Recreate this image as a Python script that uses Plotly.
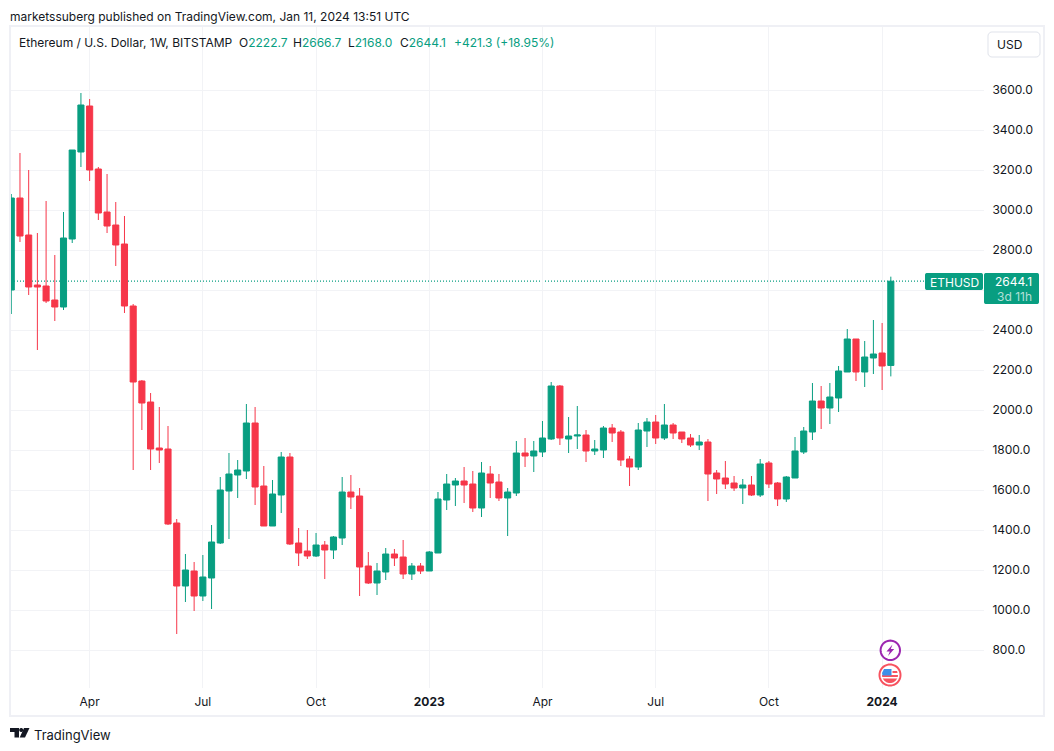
import math
import plotly.graph_objects as go

# ETH/USD weekly candles
opens = [2600, 3060, 2875, 2625, 2620, 2550, 2515, 2855, 3290, 3520,
         3205, 2990, 2925, 2830, 2520, 2145, 2040, 1810, 1805, 1435,
         1120, 1195, 1070, 1160, 1335, 1595, 1675, 1695, 1935, 1620,
         1420, 1575, 1765, 1335, 1295, 1270, 1325, 1300, 1360, 1590,
         1570, 1220, 1135, 1190, 1280, 1265, 1180, 1220, 1195, 1285,
         1550, 1625, 1645, 1630, 1510, 1680, 1640, 1560, 1585, 1785,
         1770, 1790, 1855, 2120, 1855, 1870, 1875, 1795, 1800, 1910,
         1890, 1755, 1715, 1895, 1940, 1860, 1925, 1890, 1860, 1825,
         1840, 1685, 1660, 1635, 1610, 1625, 1575, 1735, 1635, 1555,
         1660, 1790, 1890, 2045, 2010, 2060, 2190, 2355, 2190, 2260,
         2285, 2222.7]
highs = [3080, 3285, 3200, 2885, 3045, 2775, 2990, 3300, 3585, 3555,
         3215, 3180, 3040, 2970, 2530, 2150, 2085, 2015, 1920, 1455,
         1280, 1240, 1275, 1425, 1665, 1785, 1750, 2030, 2015, 1720,
         1650, 1790, 1785, 1410, 1400, 1385, 1345, 1370, 1665, 1675,
         1610, 1290, 1235, 1310, 1305, 1350, 1235, 1235, 1295, 1590,
         1680, 1660, 1715, 1695, 1740, 1720, 1680, 1610, 1845, 1860,
         1845, 1945, 2140, 2125, 1965, 2020, 1900, 1850, 1920, 1930,
         1900, 1770, 1935, 1960, 1975, 2030, 1935, 1890, 1880, 1875,
         1855, 1700, 1745, 1670, 1655, 1670, 1755, 1745, 1640, 1670,
         1865, 1915, 2135, 2120, 2135, 2220, 2405, 2355, 2345, 2450,
         2435, 2666.7]
lows = [2480, 2840, 2575, 2300, 2535, 2445, 2500, 2835, 3215, 3145,
        2950, 2885, 2720, 2485, 1700, 1900, 1700, 1735, 1425, 880,
        1040, 995, 1045, 1005, 1330, 1355, 1560, 1655, 1525, 1420,
        1420, 1485, 1325, 1220, 1255, 1265, 1155, 1255, 1325, 1505,
        1070, 1130, 1075, 1150, 1220, 1155, 1150, 1180, 1195, 1285,
        1500, 1520, 1535, 1490, 1465, 1560, 1545, 1370, 1570, 1715,
        1690, 1765, 1850, 1825, 1785, 1805, 1740, 1775, 1760, 1840,
        1720, 1620, 1700, 1815, 1830, 1850, 1855, 1835, 1815, 1800,
        1545, 1580, 1605, 1595, 1530, 1570, 1565, 1610, 1520, 1540,
        1660, 1780, 1850, 1905, 1930, 1990, 2190, 2145, 2115, 2180,
        2100, 2168.0]
closes = [3060, 2870, 2615, 2615, 2545, 2515, 2860, 3300, 3525, 3200,
          2985, 2920, 2825, 2520, 2140, 2035, 1805, 1800, 1430, 1120,
          1200, 1070, 1165, 1340, 1600, 1680, 1700, 1935, 1615, 1420,
          1580, 1765, 1330, 1285, 1270, 1325, 1300, 1365, 1590, 1565,
          1215, 1135, 1195, 1280, 1260, 1180, 1220, 1195, 1290, 1555,
          1630, 1645, 1625, 1510, 1685, 1635, 1560, 1590, 1785, 1770,
          1795, 1860, 2120, 1860, 1870, 1875, 1795, 1805, 1910, 1885,
          1750, 1715, 1900, 1940, 1860, 1925, 1885, 1855, 1825, 1840,
          1680, 1655, 1630, 1610, 1625, 1575, 1730, 1630, 1555, 1665,
          1795, 1895, 2045, 2010, 2065, 2195, 2355, 2190, 2265, 2280,
          2220, 2644.1]
bars = list(range(len(closes)))

time_ticks = [9, 22, 35, 48, 61, 74, 87, 100]
time_labels = ["Apr", "Jul", "Oct", "<b>2023</b>", "Apr", "Jul", "Oct", "<b>2024</b>"]
price_ticks = [800, 1000, 1200, 1400, 1600, 1800, 2000, 2200, 2400, 2600, 2800, 3000, 3200, 3400, 3600]
# 2600.0 sits under the last price label, so only its grid line shows
price_labels = ["800.0", "1000.0", "1200.0", "1400.0", "1600.0", "1800.0", "2000.0", "2200.0",
                "2400.0", "", "2800.0", "3000.0", "3200.0", "3400.0", "3600.0"]

GREEN = "#089e81"
RED = "#f63649"
TEXT = "#131722"
GRID = "#f2f3f6"
BORDER = "#eff0f5"
FONT = "Inter"

# pane position in page pixels
LEFT, RIGHT, TOP, BOTTOM = 11, 984, 27, 688


def px(x):
    return (x - LEFT) / (RIGHT - LEFT)


def py(y):
    return (BOTTOM - y) / (BOTTOM - TOP)


def path(points, close=True):
    s = "M" + " L".join(f"{px(x):.5f},{py(y):.5f}" for x, y in points)
    return s + (" Z" if close else "")


def disc(cx, cy, r, start=0, end=360, n=48):
    return [(cx + r * math.cos(math.radians(start + (end - start) * i / n)),
             cy + r * math.sin(math.radians(start + (end - start) * i / n))) for i in range(n + 1)]


def rrect(x0, y0, x1, y1, r):
    pts = disc(x1 - r, y0 + r, r, -90, 0, 6) + disc(x1 - r, y1 - r, r, 0, 90, 6)
    pts += disc(x0 + r, y1 - r, r, 90, 180, 6) + disc(x0 + r, y0 + r, r, 180, 270, 6)
    return pts


fig = go.Figure(go.Candlestick(
    x=bars, open=opens, high=highs, low=lows, close=closes,
    whiskerwidth=0,
    increasing=dict(line=dict(color=GREEN, width=1), fillcolor=GREEN),
    decreasing=dict(line=dict(color=RED, width=1), fillcolor=RED),
    showlegend=False,
))


def add_shape(points, fill=None, line=None, width=0, close=True):
    fig.add_shape(type="path", xref="paper", yref="paper", path=path(points, close),
                  fillcolor=fill or "rgba(0,0,0,0)", line=dict(color=line or "rgba(0,0,0,0)", width=width))


def add_text(x, y, text, size=12, color=TEXT, anchor="left"):
    fig.add_annotation(xref="paper", yref="paper", x=px(x), y=py(y), text=text, showarrow=False,
                       xanchor=anchor, yanchor="middle", align=anchor, borderpad=0,
                       font=dict(family=FONT, size=size, color=color))


# frame round the chart
add_shape([(10, 26), (1044, 26), (1044, 716), (10, 716)], line=BORDER, width=2)

# last price line, behind the candles
fig.add_shape(type="line", xref="paper", yref="y", x0=0, x1=px(925), y0=closes[-1], y1=closes[-1],
              line=dict(color=GREEN, width=1.2, dash="1px,2px"), layer="below")

# last price labels
add_shape(rrect(925, 273, 983, 290, 2), fill=GREEN)
add_shape(rrect(984, 273, 1039, 304, 2), fill=GREEN)
add_text(954, 282, "ETHUSD", color="#ffffff", anchor="center")
add_text(1033, 281.5, f"{closes[-1]:.1f}", color="#ffffff", anchor="right")
add_text(1033, 296, "3d 11h", color="rgba(255,255,255,0.7)", anchor="right")

# currency button
add_shape(rrect(988, 32, 1040, 57, 4), fill="#ffffff", line="#e0e3eb", width=1)
add_text(1010, 44.5, "USD", anchor="center")

# header and legend
add_text(9, 16, "marketssuberg published on TradingView.com, Jan 11, 2024 13:51 UTC")
add_text(18, 42.5, "Ethereum / U.S. Dollar, 1W, BITSTAMP")
legend = [(238, "O", "2222.7"), (292, "H", "2666.7"), (347, "L", "2168.0"), (399, "C", "2644.1")]
for x, head, value in legend:
    add_text(x, 42.5, f'{head}<span style="color:{GREEN}">{value}</span>')
add_text(453, 42.5, "+421.3 (+18.95%)", color=GREEN)

# event icons on the last bars
add_shape(disc(890.3, 650.3, 9.7), fill="#ffffff", line="#9c27b0", width=2)
add_shape([(892.5, 644.5), (886.5, 651.5), (889.8, 651.5), (888, 656), (894.2, 649), (890.8, 649)], fill="#9c27b0")
add_shape(disc(890, 675, 10.5), fill="#ffffff", line="#f7525f", width=2)
add_shape(disc(890, 675, 8, 0, 180, 24), fill="#f7525f")
add_shape([(882, 677), (898, 677), (898, 678.5), (882, 678.5)], fill="#ffffff")
add_shape([(884, 669), (891.5, 669), (891.5, 675.5), (882.5, 675.5), (882, 673)], fill="#3d8fe8")
add_shape([(892.5, 671), (897, 671), (897.6, 673), (892.5, 673)], fill="#f7525f")

# footer logo
add_shape([(10, 728), (19, 728), (19, 737.5), (14.5, 737.5), (14.5, 732), (10, 732)], fill=TEXT)
add_shape(disc(21.2, 730, 2), fill=TEXT)
add_shape([(24, 728), (29.5, 728), (25, 737.5), (19.7, 737.5)], fill=TEXT)
add_text(33, 734.5, "TradingView", size=13)

fig.update_layout(
    width=1054, height=751,
    margin=dict(l=LEFT, r=1054 - RIGHT, t=TOP, b=751 - BOTTOM),
    paper_bgcolor="#ffffff", plot_bgcolor="#ffffff",
    boxgap=0.3, boxgroupgap=0,
    font=dict(family=FONT, size=12, color=TEXT),
    xaxis=dict(range=[-0.03, 111.7], rangeslider=dict(visible=False), tickmode="array",
               tickvals=time_ticks, ticktext=time_labels, tickangle=0, showgrid=True,
               gridcolor=GRID, gridwidth=1, zeroline=False, showline=False,
               ticks="outside", ticklen=3, tickcolor="rgba(0,0,0,0)"),
    yaxis=dict(side="right", range=[610, 3915], tickmode="array", tickvals=price_ticks,
               ticktext=price_labels, showgrid=True, gridcolor=GRID,
               gridwidth=1, zeroline=False, showline=False,
               ticks="outside", ticklen=5, tickcolor="rgba(0,0,0,0)"),
)

# page body has a default margin that would push the chart off the window
fig.write_html("out.html", config=dict(displayModeBar=False), post_script="document.body.style.margin='0';")
